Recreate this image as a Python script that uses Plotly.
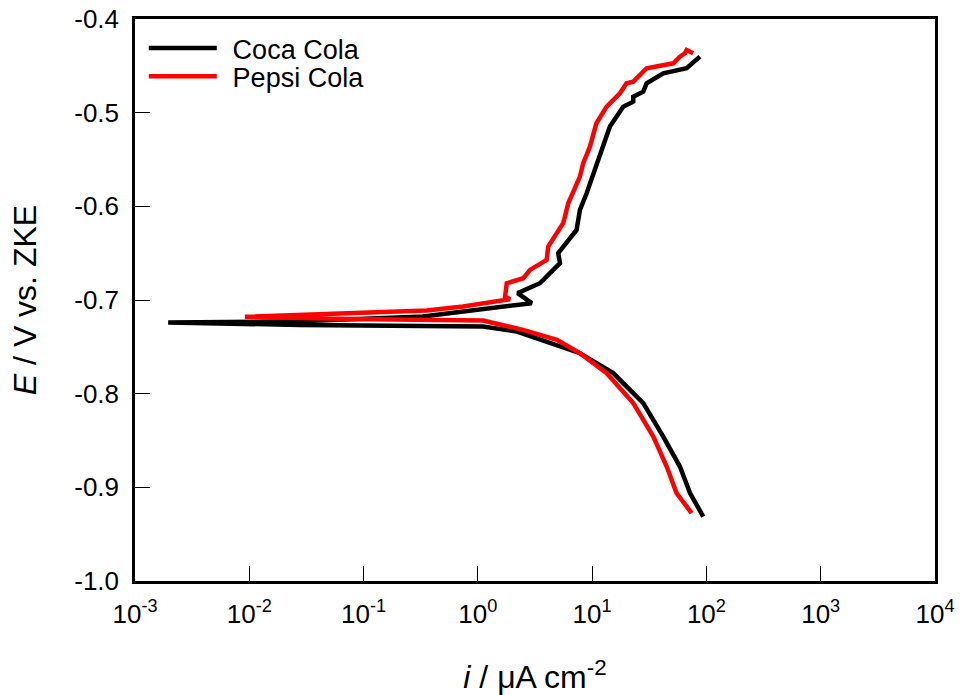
import plotly.graph_objects as go

# Coca Cola: current density (uA cm^-2) and potential (V vs. ZKE), scan from cathodic to anodic
coca_i = [93.8, 71.8, 58.6, 41.9, 28.0, 15.3, 7.82, 3.49, 2.20, 1.11, 0.0278, 0.00195,
          0.0278, 0.331, 1.47, 2.96, 2.23, 3.49, 5.23, 5.05, 7.31, 7.82, 8.95, 10.6, 11.7,
          14.3, 18.7, 22.9, 22.9, 28.0, 30.0, 41.9, 67.1, 87.7]
coca_E = [-0.9312, -0.9062, -0.8778, -0.8458, -0.8101, -0.7781, -0.7568, -0.7426, -0.7337,
          -0.7284, -0.7266, -0.7241,
          -0.7228, -0.7177, -0.7084, -0.7034, -0.6927, -0.6821, -0.6607, -0.6500, -0.6252,
          -0.6038, -0.5860, -0.5611, -0.5433, -0.5149, -0.4936, -0.4883, -0.4829, -0.4776,
          -0.4686, -0.4580, -0.4526, -0.4402]

# Pepsi Cola
pepsi_i = [74.3, 54.8, 44.9, 34.3, 22.9, 13.4, 7.82, 4.92, 2.48, 1.11, 0.076, 0.00916,
           0.00916, 0.356, 0.741, 1.91, 1.73, 1.79, 2.50, 2.86, 4.00, 4.13, 5.58, 5.78, 6.18,
           7.82, 8.36, 9.57, 10.9, 13.4, 17.5, 20.0, 22.9, 30.0, 51.3, 58.6, 64.9, 67.1, 76.5]
pepsi_E = [-0.9275, -0.9062, -0.8778, -0.8458, -0.8101, -0.7781, -0.7568, -0.7426, -0.7319,
           -0.7220, -0.7202, -0.7186,
           -0.7180, -0.7113, -0.7070, -0.6991, -0.6964, -0.6821, -0.6767, -0.6679, -0.6572,
           -0.6430, -0.6180, -0.6110, -0.5967, -0.5683, -0.5540, -0.5363, -0.5113, -0.4936,
           -0.4793, -0.4686, -0.4669, -0.4526, -0.4473, -0.4402, -0.4366, -0.4331, -0.4366]

series_names = ["Coca Cola", "Pepsi Cola"]

x_tickvals = [1e-3, 1e-2, 1e-1, 1e0, 1e1, 1e2, 1e3, 1e4]
x_ticktext = ["10<sup>-3</sup>", "10<sup>-2</sup>", "10<sup>-1</sup>", "10<sup>0</sup>",
              "10<sup>1</sup>", "10<sup>2</sup>", "10<sup>3</sup>", "10<sup>4</sup>"]
y_tickvals = [-1.0, -0.9, -0.8, -0.7, -0.6, -0.5, -0.4]
y_ticktext = ["-1.0", "-0.9", "-0.8", "-0.7", "-0.6", "-0.5", "-0.4"]

FONT = "Liberation Sans, Arial, sans-serif"
PAD = "\u2009\u2009"

fig = go.Figure()
fig.add_trace(go.Scatter(x=coca_i, y=coca_E, mode="lines", name=PAD + series_names[0],
                         line=dict(color="black", width=4.5), legend="legend"))
fig.add_trace(go.Scatter(x=pepsi_i, y=pepsi_E, mode="lines", name=PAD + series_names[1],
                         line=dict(color="#ff0000", width=4.5), legend="legend2"))

leg_common = dict(xanchor="left", yanchor="top", bgcolor="rgba(0,0,0,0)",
                  font=dict(size=27), itemwidth=68)

fig.update_layout(
    width=962, height=695,
    margin=dict(l=135, r=27, t=19, b=114, autoexpand=False),
    paper_bgcolor="white", plot_bgcolor="white",
    font=dict(family=FONT, color="black", size=26),
    showlegend=True,
    legend=dict(x=0.011, y=0.991, **leg_common),
    legend2=dict(x=0.011, y=0.941, **leg_common),
)
fig.update_xaxes(
    type="log", range=[-3, 4], automargin=False,
    tickvals=x_tickvals, ticktext=x_ticktext,
    ticks="inside", ticklen=15, tickwidth=1, tickcolor="black",
    showline=True, linecolor="black", linewidth=2.5, mirror=True,
    showgrid=False, zeroline=False, ticklabeloverflow="allow",
    tickfont=dict(size=26), ticklabelstandoff=8,
    title=dict(text="<i>i</i> / μA cm<sup>-2</sup>", font=dict(size=32), standoff=62),
)
fig.update_yaxes(
    range=[-1.0, -0.4], automargin=False,
    tickvals=y_tickvals, ticktext=y_ticktext,
    ticks="inside", ticklen=15, tickwidth=1, tickcolor="black",
    showline=True, linecolor="black", linewidth=2.5, mirror=True,
    showgrid=False, zeroline=False, ticklabeloverflow="allow",
    tickfont=dict(size=26), ticklabelstandoff=8,
    title=dict(text="<i>E</i> / V vs. ZKE", font=dict(size=32), standoff=29),
)

# remove the browser's default 8px body margin so the figure fills the window exactly
fig.write_html("out.html",
               config={"displayModeBar": False},
               post_script="document.body.style.margin='0';document.body.style.overflow='hidden';")
